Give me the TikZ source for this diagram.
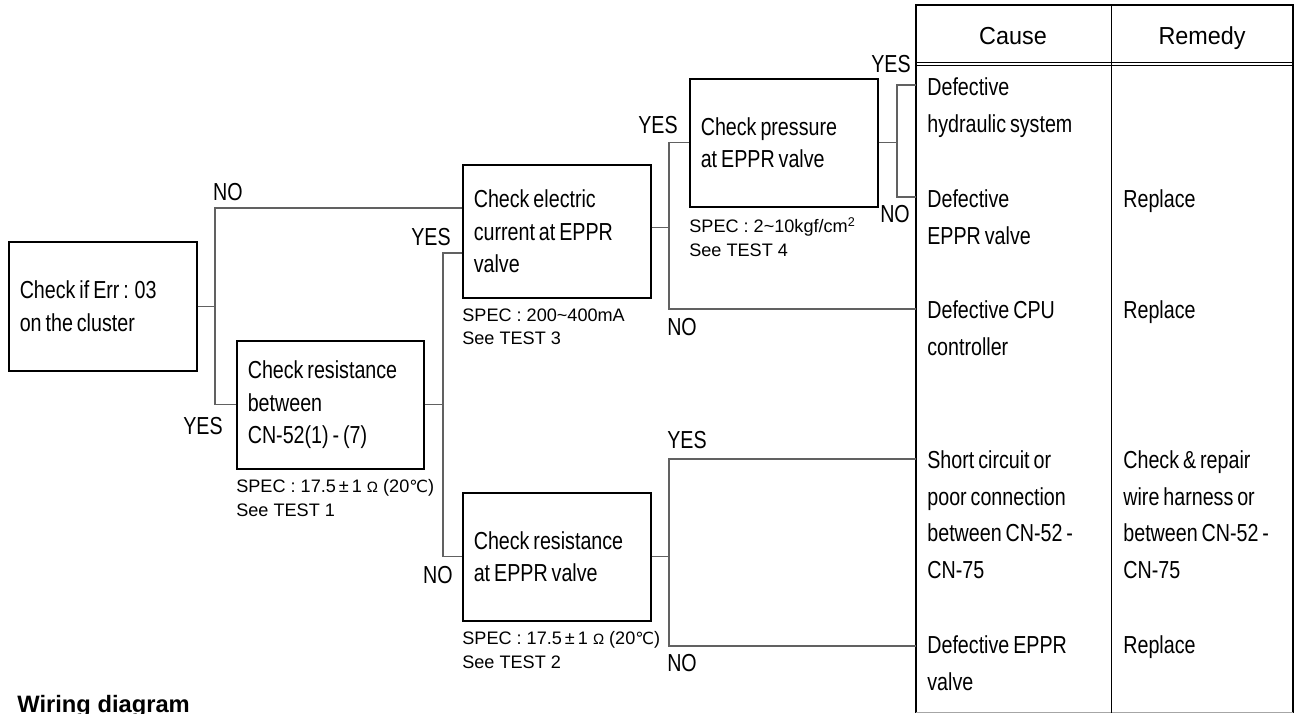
\documentclass[tikz,border=0pt]{standalone}
\usepackage{fontspec}
\setmainfont{Liberation Sans}[FakeStretch=0.80, WordSpace=0.72]
\newfontfamily\hdfont{Liberation Sans}[FakeStretch=0.95]
\newfontfamily\spfont{Liberation Sans}
\newfontfamily\degfont{DejaVu Sans}
\newcommand{\mainsz}{\fontsize{14}{18.6}\selectfont}
\newcommand{\tabsz}{\fontsize{14}{21}\selectfont}
\newcommand{\specsz}{\spfont\fontsize{10.3}{13.6}\selectfont}
\newcommand{\hdsz}{\hdfont\fontsize{14}{17}\selectfont}
\newcommand{\ohm}{{\fontsize{8.5}{8.5}\selectfont Ω}}
\newcommand{\degc}{{\degfont\fontsize{9.5}{9.5}\selectfont ℃}}
\newcommand{\nsp}{\spaceskip=0pt\xspaceskip=0pt\relax}
\begin{document}
\begin{tikzpicture}[x=0.02cm, y=-0.02cm,
  boxn/.style={draw=black, line width=0.9pt, anchor=north west, minimum height=2.56cm,
    text width=3.32cm, inner xsep=0.22cm, inner ysep=0pt, align=left, font=\mainsz},
  conn/.style={draw=black!62, line width=0.6pt},
  lbl/.style={inner sep=0pt, font=\mainsz},
  specn/.style={anchor=north west, align=left, inner sep=0pt, font=\specsz, yshift=-0.19cm},
  cell/.style={anchor=north west, align=left, inner sep=0pt, font=\tabsz},
  tline/.style={draw=black, line width=1.1pt},
  thin/.style={draw=black, line width=0.5pt}]
\useasboundingbox (0,0) rectangle (1300,713);

% boxes
\node[boxn, minimum height=2.58cm] (A) at (8,241) {\nsp Check if Err : 03\\on the cluster};
\node[boxn, text width=3.30cm] (C) at (236,340) {\nsp Check resistance\\between\\CN-52(1) - (7)};
\node[boxn, minimum height=2.66cm] (B) at (462,164) {\nsp Check electric\\current at EPPR\\valve};
\node[boxn] (D) at (462,492) {\nsp Check resistance\\at EPPR valve};
\node[boxn] (E) at (689,78) {\nsp Check pressure\\at EPPR valve};

% specs
\node[specn] (sC) at (C.south west) {SPEC : 17.5\,±\,1 \ohm\ (20\degc)\\See TEST 1};
\node[specn] (sB) at (B.south west) {SPEC : 200\textasciitilde400mA\\See TEST 3};
\node[specn] (sD) at (D.south west) {SPEC : 17.5\,±\,1 \ohm\ (20\degc)\\See TEST 2};
\node[specn] (sE) at (E.south west) {SPEC : 2\textasciitilde10kgf/cm\textsuperscript{2}\\See TEST 4};

% table
\node[anchor=north west, minimum width=7.52cm, minimum height=14.14cm, inner sep=0pt] (tbl) at (916,5) {};
\coordinate (h1) at (0,62);
\coordinate (h2) at (0,65);
\coordinate (cd) at (1111,0);
\draw[tline] (tbl.south west) -- (tbl.north west) -- (tbl.north east) -- (tbl.south east);
\draw[draw=black!35, line width=0.5pt] (tbl.south west) -- (tbl.south east);
\draw[thin] (tbl.west |- h1) -- (tbl.east |- h1);
\draw[thin] (tbl.west |- h2) -- (tbl.east |- h2);
\draw[thin] (cd |- tbl.north) -- (cd |- tbl.south);

\node[anchor=base, inner sep=0pt, font=\hdsz] (hc) at (1013,45) {Cause};
\node[anchor=base, inner sep=0pt, font=\hdsz] (hr) at (1202,45) {Remedy};

\node[cell] (c1) at (927,77) {Defective\\hydraulic system};
\node[cell] (c2) at (927,189) {Defective\\EPPR valve};
\node[cell] (c3) at (927,300) {Defective CPU\\controller};
\node[cell] (c4) at (927,450) {Short circuit or\\poor connection\\between CN-52 -\\CN-75};
\node[cell] (c5) at (927,635) {Defective EPPR\\valve};
\node[cell] (r2) at (1123,189) {Replace};
\node[cell] (r3) at (1123,300) {Replace};
\node[cell] (r4) at (1123,450) {Check \& repair\\wire harness or\\between CN-52 -\\CN-75};
\node[cell] (r5) at (1123,635) {Replace};

% junction coordinates
\coordinate (j1t) at (215,208);
\coordinate (j2t) at (443,253);
\coordinate (j3b) at (669,309);
\coordinate (j4t) at (897,85);
\coordinate (j4b) at (897,197);
\coordinate (j5t) at (669,459);
\coordinate (j5b) at (669,646);

% connectors
\draw[conn] (A.east) -- (A.east -| j1t);
\draw[conn] (B.west |- j1t) -- (j1t) |- (C.west);
\draw[conn] (C.east) -- (C.east -| j2t);
\draw[conn] (B.west |- j2t) -- (j2t) |- (D.west);
\draw[conn] ([yshift=0.08cm]B.east) -- ([yshift=0.08cm]B.east -| j3b);
\draw[conn] (E.west) -| (j3b) -- (tbl.west |- j3b);
\draw[conn] (E.east) -- (E.east -| j4t);
\draw[conn] (tbl.west |- j4t) -- (j4t) -- (j4b) -- (tbl.west |- j4b);
\draw[conn] (D.east) -- (D.east -| j5t);
\draw[conn] (tbl.west |- j5t) -- (j5t) -- (j5b) -- (tbl.west |- j5b);

% labels
\node[lbl] (l1) at (228,192) {NO};
\node[lbl] (l2) at (203,426) {YES};
\node[lbl] (l3) at (431,237) {YES};
\node[lbl] (l4) at (438,575) {NO};
\node[lbl] (l5) at (658,125) {YES};
\node[lbl] (l6) at (682,327) {NO};
\node[lbl] (l7) at (891,64) {YES};
\node[lbl] (l8) at (895,214) {NO};
\node[lbl] (l9) at (687,440) {YES};
\node[lbl] (l10) at (682,663) {NO};

% footer heading
\node[anchor=base west, inner sep=0pt, font=\spfont\bfseries\fontsize{13.5}{16}\selectfont] (wd) at (17,712) {Wiring diagram};
\end{tikzpicture}
\end{document}
